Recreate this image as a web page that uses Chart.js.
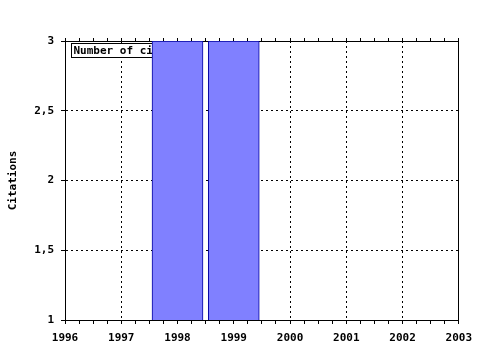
<!DOCTYPE html>
<html>
<head>
<meta charset="utf-8">
<script src="https://cdn.jsdelivr.net/npm/chart.js@4/dist/chart.umd.min.js"></script>
<style>
  html, body { margin: 0; padding: 0; background: #fff; }
  #wrap { width: 480px; height: 350px; }
</style>
</head>
<body>
<div id="wrap"><canvas id="citations-chart"></canvas></div>
<script>
// chart data
const years = [1998, 1999];
const citations = [3, 3];
const xTicks = [1996, 1997, 1998, 1999, 2000, 2001, 2002, 2003];
const yTicks = [1, 1.5, 2, 2.5, 3];
const seriesLabel = 'Number of citations';

const FONT = { family: 'DejaVu Sans Mono', size: 11, weight: 'bold' };

// legend box drawn inside the plot, underneath the bars
const insideLegend = {
  id: 'insideLegend',
  beforeDatasetsDraw(chart) {
    const ctx = chart.ctx;
    const area = chart.chartArea;
    const label = chart.data.datasets[0].label;
    ctx.save();
    ctx.font = 'bold 11px "DejaVu Sans Mono"';
    const w = ctx.measureText(label).width + 4;
    const x = area.left + 6.5;
    const y = area.top + 2.5;
    ctx.fillStyle = '#fff';
    ctx.fillRect(x, y, w, 14);
    ctx.strokeStyle = '#000';
    ctx.lineWidth = 1;
    ctx.strokeRect(x, y, w, 14);
    ctx.fillStyle = '#000';
    ctx.textBaseline = 'middle';
    ctx.fillText(label, x + 2, y + 7.5);
    ctx.restore();
  }
};

const gridColor = c =>
  (c.tick && Number.isInteger(c.tick.value) ? '#000' : 'rgba(0,0,0,0)');

const ctx = document.getElementById('citations-chart').getContext('2d');
const myChart = new Chart(ctx, {
  type: 'bar',
  data: {
    datasets: [
      {
        label: seriesLabel,
        data: years.map((y, i) => ({ x: y, y: citations[i] })),
        backgroundColor: '#8080ff',
        borderColor: '#0000a0',
        borderWidth: 1,
        barThickness: 51
      }
    ]
  },
  options: {
    responsive: true,
    maintainAspectRatio: false,
    animation: false,
    layout: { padding: 0 },
    plugins: {
      legend: { display: false },
      tooltip: { enabled: false }
    },
    scales: {
      x: {
        type: 'linear',
        position: 'bottom',
        offset: false,
        min: xTicks[0],
        max: xTicks[xTicks.length - 1],
        afterFit: s => { s.height = 30; },
        ticks: {
          stepSize: 0.25,
          autoSkip: false,
          maxRotation: 0,
          padding: 8,
          color: '#000',
          font: FONT,
          callback: v => (xTicks.includes(v) ? String(v) : '')
        },
        grid: { offset: false, color: gridColor, tickColor: '#000', tickLength: 4, tickBorderDash: [] },
        border: { color: '#000', width: 1, dash: [2, 3] }
      },
      xTop: {
        type: 'linear',
        position: 'top',
        offset: false,
        min: xTicks[0],
        max: xTicks[xTicks.length - 1],
        afterFit: s => { s.height = 41; },
        ticks: { stepSize: 0.25, autoSkip: false, display: false },
        grid: { offset: false, drawOnChartArea: false, tickColor: '#000', tickLength: 3, tickBorderDash: [] },
        border: { color: '#000', width: 1 }
      },
      y: {
        type: 'linear',
        position: 'left',
        min: yTicks[0],
        max: yTicks[yTicks.length - 1],
        afterFit: s => { s.width = 65; },
        ticks: {
          stepSize: 0.5,
          padding: 7,
          color: '#000',
          font: FONT,
          callback: v => String(v).replace('.', ',')
        },
        grid: { color: '#000', tickColor: '#000', tickLength: 4, tickBorderDash: [] },
        border: { color: '#000', width: 1, dash: [2, 3] },
        title: {
          display: true,
          text: 'Citations',
          color: '#000',
          font: FONT,
          padding: { top: 7, bottom: 0 }
        }
      },
      yRight: {
        type: 'linear',
        position: 'right',
        min: yTicks[0],
        max: yTicks[yTicks.length - 1],
        afterFit: s => { s.width = 21; },
        ticks: { display: false },
        grid: { drawOnChartArea: false, drawTicks: false },
        border: { color: '#000', width: 1 }
      }
    }
  },
  plugins: [insideLegend]
});
</script>
</body>
</html>
